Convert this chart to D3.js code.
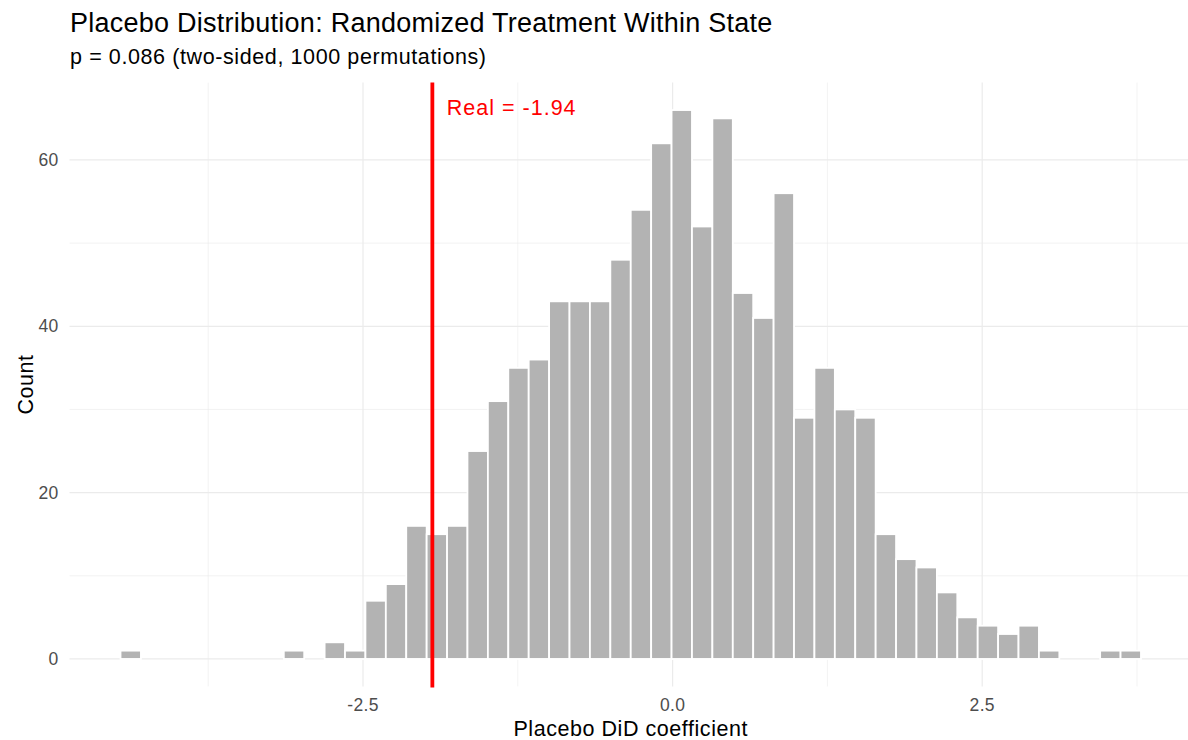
<!DOCTYPE html>
<html>
<head>
<meta charset="utf-8">
<script src="https://cdn.jsdelivr.net/npm/d3@7"></script>
<style>
  body { margin: 0; background: #fff; }
  svg { display: block; font-family: "Liberation Sans", Arial, Helvetica, sans-serif; }
</style>
</head>
<body>
<script>
// histogram counts, 50 bins of placebo DiD coefficients
const counts = [1, 0, 0, 0, 0, 0, 0, 0, 1, 0,
  2, 1, 7, 9, 16, 15, 16, 25, 31, 35,
  36, 43, 43, 43, 48, 54, 62, 66, 52, 65,
  44, 41, 56, 29, 35, 30, 29, 15, 12, 11,
  8, 5, 4, 3, 4, 1, 0, 0, 1, 1];
const binStart = -4.458;
const binWidth = 0.1648;
const realValue = -1.94;
const xTicks = [-2.5, 0, 2.5];
const xMinor = [-3.75, -1.25, 1.25, 3.75];
const yTicks = [0, 20, 40, 60];
const yMinor = [10, 30, 50];

const title = "Placebo Distribution: Randomized Treatment Within State";
const subtitle = "p = 0.086 (two-sided, 1000 permutations)";

const width = 1188, height = 740;

const bins = counts.map((c, i) => ({
  x0: binStart + i * binWidth,
  x1: binStart + (i + 1) * binWidth,
  count: c
}));

// panel limits incl. ggplot's 5% expansion
const xLo = binStart, xHi = binStart + counts.length * binWidth;
const xPad = (xHi - xLo) * 0.05;
const yMax = d3.max(counts);
const yPad = yMax * 0.05;

const x = d3.scaleLinear().domain([xLo - xPad, xHi + xPad]).range([69.5, 1192]);
const y = d3.scaleLinear().domain([-yPad, yMax + yPad]).range([686.4, 82.6]);

const svg = d3.select("body").append("svg")
  .attr("width", width)
  .attr("height", height);

const grid = svg.append("g");
grid.selectAll("line.ymin").data(yMinor).join("line")
  .attr("x1", x.range()[0]).attr("x2", x.range()[1])
  .attr("y1", d => y(d)).attr("y2", d => y(d))
  .attr("stroke", "#ebebeb").attr("stroke-width", 0.6);
grid.selectAll("line.xmin").data(xMinor).join("line")
  .attr("x1", d => x(d)).attr("x2", d => x(d))
  .attr("y1", y.range()[0]).attr("y2", y.range()[1])
  .attr("stroke", "#ebebeb").attr("stroke-width", 0.6);
grid.selectAll("line.ymaj").data(yTicks).join("line")
  .attr("x1", x.range()[0]).attr("x2", x.range()[1])
  .attr("y1", d => y(d)).attr("y2", d => y(d))
  .attr("stroke", "#ebebeb").attr("stroke-width", 1.2);
grid.selectAll("line.xmaj").data(xTicks).join("line")
  .attr("x1", d => x(d)).attr("x2", d => x(d))
  .attr("y1", y.range()[0]).attr("y2", y.range()[1])
  .attr("stroke", "#ebebeb").attr("stroke-width", 1.2);

svg.append("g").selectAll("rect").data(bins).join("rect")
  .attr("x", d => x(d.x0))
  .attr("width", d => x(d.x1) - x(d.x0))
  .attr("y", d => y(d.count))
  .attr("height", d => y(0) - y(d.count))
  .attr("fill", "#b3b3b3")
  .attr("stroke", "#fff")
  .attr("stroke-width", 1.8);

svg.append("line")
  .attr("x1", x(realValue)).attr("x2", x(realValue))
  .attr("y1", y.range()[0] + 1).attr("y2", y.range()[1])
  .attr("stroke", "#ff0000").attr("stroke-width", 3.8);

svg.append("text")
  .attr("x", x(realValue) + 14.5).attr("y", 114.5)
  .attr("fill", "#ff0000")
  .style("font-size", "21.5px").style("letter-spacing", "1px")
  .text("Real = " + realValue.toFixed(2));

// axes text
svg.append("g").selectAll("text").data(xTicks).join("text")
  .attr("x", d => x(d)).attr("y", 711)
  .attr("text-anchor", "middle")
  .attr("fill", "#4d4d4d")
  .style("font-size", "17.5px").style("letter-spacing", "0.3px")
  .text(d => d3.format(".1f")(d).replace("−", "-"));

svg.append("g").selectAll("text").data(yTicks).join("text")
  .attr("x", 58.5).attr("y", d => y(d) + 6)
  .attr("text-anchor", "end")
  .attr("fill", "#4d4d4d")
  .style("font-size", "17.5px").style("letter-spacing", "0.3px")
  .text(d => d);

svg.append("text")
  .attr("x", (x.range()[0] + x.range()[1]) / 2).attr("y", 736)
  .attr("text-anchor", "middle")
  .style("font-size", "21.5px").style("letter-spacing", "0.55px")
  .text("Placebo DiD coefficient");

svg.append("text")
  .attr("transform", "translate(33," + (y.range()[0] + y.range()[1]) / 2 + ") rotate(-90)")
  .attr("text-anchor", "middle")
  .style("font-size", "21.5px").style("letter-spacing", "0.55px")
  .text("Count");

svg.append("text")
  .attr("x", 70).attr("y", 31.7)
  .style("font-size", "27px").style("letter-spacing", "0.25px")
  .text(title);

svg.append("text")
  .attr("x", 70).attr("y", 64)
  .style("font-size", "21.5px").style("letter-spacing", "0.6px")
  .text(subtitle);
</script>
</body>
</html>
